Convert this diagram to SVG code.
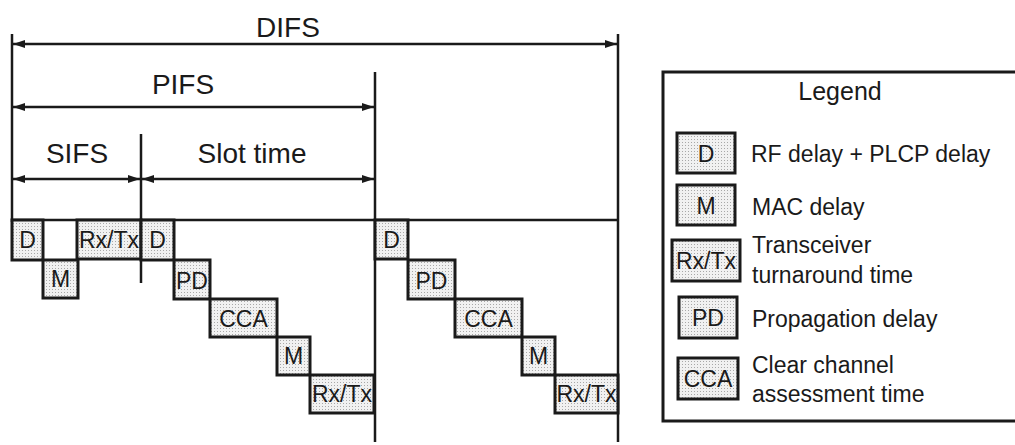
<svg xmlns="http://www.w3.org/2000/svg" width="1015" height="445" viewBox="0 0 1015 445">
<style>
text{font-family:"Liberation Sans",Arial,sans-serif;fill:#1a1a1a}
.big{font-size:28px}
.lbl{font-size:23px;text-anchor:middle}
.leg{font-size:23px}
.box{fill:url(#dots);stroke:#1a1a1a;stroke-width:3}
.ln{stroke:#1a1a1a;stroke-width:2.5;fill:none}
.arr{stroke:#1a1a1a;stroke-width:2.5;fill:none;marker-start:url(#ah);marker-end:url(#ah)}
</style>
<defs>
<pattern id="dots" width="3" height="3" patternUnits="userSpaceOnUse">
<rect width="3" height="3" fill="#f1f1f1"/>
<rect x="1" y="1" width="1" height="1" fill="#a8a8a8"/>
</pattern>
<marker id="ah" viewBox="0 0 12 8" refX="12" refY="4" markerWidth="12" markerHeight="8" markerUnits="userSpaceOnUse" orient="auto-start-reverse">
<path d="M0,0 L12,4 L0,8 Z" fill="#1a1a1a"/>
</marker>
</defs>
<rect width="1015" height="445" fill="#fff"/>
<g id="connectors">
<line class="ln" x1="12" y1="34" x2="12" y2="222"/>
<line class="ln" x1="141" y1="134" x2="141" y2="283"/>
<line class="ln" x1="375" y1="72" x2="375" y2="442"/>
<line class="ln" x1="618" y1="34" x2="618" y2="442"/>
<line class="ln" x1="12" y1="220" x2="618" y2="220" stroke-width="3"/>
<line class="arr" x1="13" y1="44" x2="617" y2="44"/>
<line class="arr" x1="13" y1="107" x2="374" y2="107"/>
<line class="arr" x1="13" y1="179" x2="140" y2="179"/>
<line class="arr" x1="142" y1="179" x2="374" y2="179"/>
</g>
<g id="labels">
<text class="big" x="288" y="37" text-anchor="middle">DIFS</text>
<text class="big" x="183" y="94" text-anchor="middle">PIFS</text>
<text class="big" x="77" y="163" text-anchor="middle">SIFS</text>
<text class="big" x="252" y="163" text-anchor="middle">Slot time</text>
</g>
<g id="d1"><rect class="box" x="12" y="220" width="31" height="40"/><text class="lbl" x="27.5" y="248">D</text></g>
<g id="m1"><rect class="box" x="43" y="260" width="35" height="38"/><text class="lbl" x="60.5" y="287">M</text></g>
<g id="rxtx1"><rect class="box" x="77" y="220" width="64" height="39"/><text class="lbl" x="109" y="248">Rx/Tx</text></g>
<g id="d2"><rect class="box" x="141" y="220" width="33" height="40"/><text class="lbl" x="157.5" y="248">D</text></g>
<g id="pd1"><rect class="box" x="174" y="260" width="36" height="39"/><text class="lbl" x="192" y="289">PD</text></g>
<g id="cca1"><rect class="box" x="210" y="299" width="67" height="38"/><text class="lbl" x="243.5" y="327">CCA</text></g>
<g id="m2"><rect class="box" x="277" y="337" width="33" height="38"/><text class="lbl" x="293.5" y="364">M</text></g>
<g id="rxtx2"><rect class="box" x="310" y="375" width="64" height="38"/><text class="lbl" x="342" y="402">Rx/Tx</text></g>
<g id="d3"><rect class="box" x="375" y="220" width="33" height="39"/><text class="lbl" x="391.5" y="248">D</text></g>
<g id="pd2"><rect class="box" x="408" y="260" width="47" height="39"/><text class="lbl" x="431.5" y="289">PD</text></g>
<g id="cca2"><rect class="box" x="455" y="299" width="67" height="38"/><text class="lbl" x="488.5" y="327">CCA</text></g>
<g id="m3"><rect class="box" x="522" y="337" width="33" height="38"/><text class="lbl" x="538.5" y="364">M</text></g>
<g id="rxtx3"><rect class="box" x="555" y="375" width="63" height="38"/><text class="lbl" x="586.5" y="402">Rx/Tx</text></g>
<g id="legend">
<rect x="663" y="72" width="360" height="349" fill="none" stroke="#1a1a1a" stroke-width="3"/>
<text x="840" y="100" text-anchor="middle" style="font-size:25px">Legend</text>
<rect class="box" x="677" y="133" width="58" height="40"/><text class="lbl" x="706" y="162">D</text>
<text class="leg" x="751" y="162">RF delay + PLCP delay</text>
<rect class="box" x="677" y="185" width="58" height="40"/><text class="lbl" x="706" y="214">M</text>
<text class="leg" x="752" y="215">MAC delay</text>
<rect class="box" x="672" y="240" width="68" height="41"/><text class="lbl" x="706" y="269">Rx/Tx</text>
<text class="leg" x="752" y="253">Transceiver</text>
<text class="leg" x="752" y="283">turnaround time</text>
<rect class="box" x="679" y="297" width="58" height="41"/><text class="lbl" x="708" y="326">PD</text>
<text class="leg" x="752" y="327">Propagation delay</text>
<rect class="box" x="678" y="358" width="60" height="41"/><text class="lbl" x="708" y="387">CCA</text>
<text class="leg" x="752" y="373">Clear channel</text>
<text class="leg" x="752" y="402">assessment time</text>
</g>
</svg>
